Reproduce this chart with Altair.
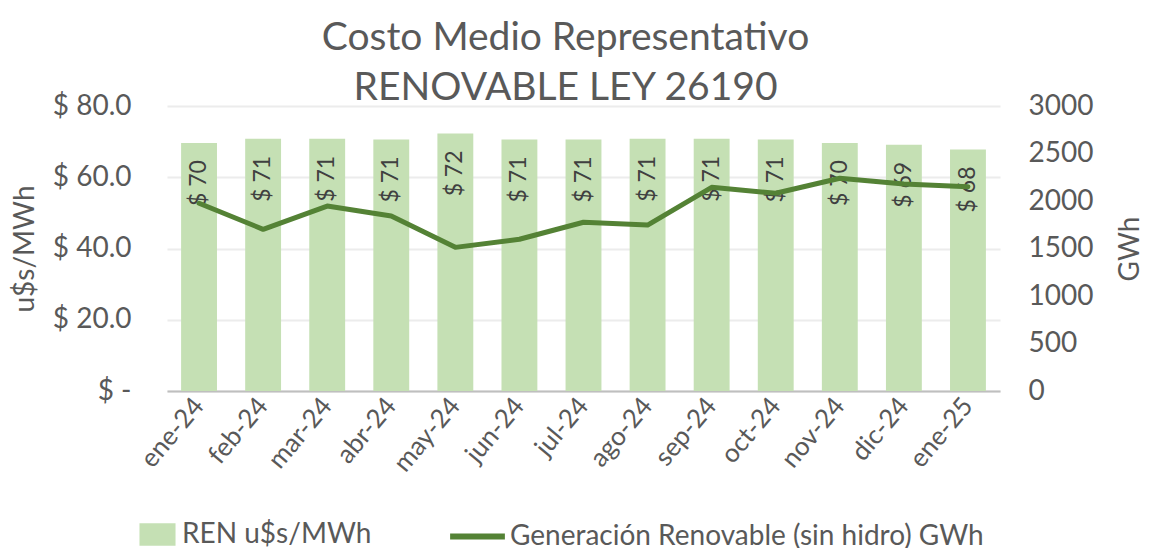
import altair as alt
import pandas as pd

months = ["ene-24", "feb-24", "mar-24", "abr-24", "may-24", "jun-24", "jul-24",
          "ago-24", "sep-24", "oct-24", "nov-24", "dic-24", "ene-25"]
cost = [69.6, 70.8, 70.8, 70.6, 72.3, 70.6, 70.6, 70.8, 70.8, 70.6, 69.6, 69.1, 67.8]
gen = [1976, 1702, 1947, 1842, 1512, 1597, 1776, 1747, 2144, 2081, 2239, 2179, 2151]

BAR_NAME = "REN u$s/MWh"
LINE_NAME = "Generación Renovable (sin hidro) GWh"

df = pd.DataFrame({
    "month": months,
    "cost": cost,
    "gen": gen,
    "label": ["$ " + str(round(v)) for v in cost],
    "bar_series": BAR_NAME,
    "line_series": LINE_NAME,
})

FONT = "Lato"
GREY = "#595959"

x = alt.X("month:N", sort=months, title=None,
          scale=alt.Scale(paddingInner=0.44, paddingOuter=0.22),
          axis=alt.Axis(labelAngle=-50, labelAlign="right", labelBaseline="middle",
                        labelFontSize=26, labelColor=GREY, labelFont=FONT, labelPadding=10,
                        ticks=False, domainColor="#bfbfbf", domainWidth=2, grid=False))

y_left = alt.Y("cost:Q", title="u$s/MWh",
               scale=alt.Scale(domain=[0, 80], nice=False),
               axis=alt.Axis(values=[0, 20, 40, 60, 80],
                             labelExpr="datum.value == 0 ? '$ -  ' : '$ ' + format(datum.value, '.1f')",
                             labelFontSize=28, labelColor=GREY, labelFont=FONT, labelPadding=36,
                             titleFontSize=28, titleColor=GREY, titleFont=FONT, titleFontWeight="normal",
                             titlePadding=13,
                             ticks=False, domain=False, grid=True, gridColor="#ececec", gridWidth=2))

bars = alt.Chart(df).mark_bar().encode(
    x=x,
    y=y_left,
    fill=alt.Fill("bar_series:N", title=None,
                  scale=alt.Scale(domain=[BAR_NAME], range=["#c5e0b4"]),
                  legend=alt.Legend(orient="none", legendX=-28, legendY=410,
                                    symbolType="M-1,-0.62H1V0.62H-1Z", symbolSize=1300,
                                    symbolStrokeWidth=0, labelLimit=1000,
                                    labelFontSize=28, labelColor=GREY, labelFont=FONT,
                                    labelOffset=6)),
)

labels = alt.Chart(df).mark_text(angle=270, align="right", baseline="middle", dx=-17,
                                 fontSize=23, font=FONT, color="#404040").encode(
    x=alt.X("month:N", sort=months),
    y=alt.Y("cost:Q"),
    text="label:N",
)

left_layer = alt.layer(bars, labels)

line = alt.Chart(df).mark_line(strokeWidth=5, strokeJoin="round", strokeCap="round").encode(
    x=alt.X("month:N", sort=months),
    y=alt.Y("gen:Q", title="GWh",
            scale=alt.Scale(domain=[0, 3000], nice=False),
            axis=alt.Axis(orient="right", values=[0, 500, 1000, 1500, 2000, 2500, 3000],
                          format="d",
                          labelFontSize=28, labelColor=GREY, labelFont=FONT, labelPadding=28,
                          titleFontSize=28, titleColor=GREY, titleFont=FONT, titleFontWeight="normal",
                          titleAngle=270, titlePadding=52,
                          ticks=False, domain=False, grid=False)),
    stroke=alt.Stroke("line_series:N", title=None,
                      scale=alt.Scale(domain=[LINE_NAME], range=["#548235"]),
                      legend=alt.Legend(orient="none", legendX=280, legendY=400,
                                        symbolType="stroke", symbolSize=3000, symbolStrokeWidth=6,
                                        labelLimit=1000,
                                        labelFontSize=28, labelColor=GREY, labelFont=FONT,
                                        labelOffset=2)),
)

chart = alt.layer(left_layer, line).resolve_scale(
    y="independent", fill="independent", stroke="independent"
).properties(
    width=833,
    height=285,
    title=alt.TitleParams(["Costo Medio Representativo", "RENOVABLE LEY 26190"],
                          fontSize=39, font=FONT, color=GREY, fontWeight="normal",
                          anchor="middle", dx=-18, dy=22, offset=6, lineHeight=50),
    padding={"left": 159, "top": 98, "right": 165, "bottom": 157},
    autosize=alt.AutoSizeParams(type="none"),
).configure_view(stroke=None)

chart.save("out.html", embed_options={"renderer": "svg", "actions": False})
